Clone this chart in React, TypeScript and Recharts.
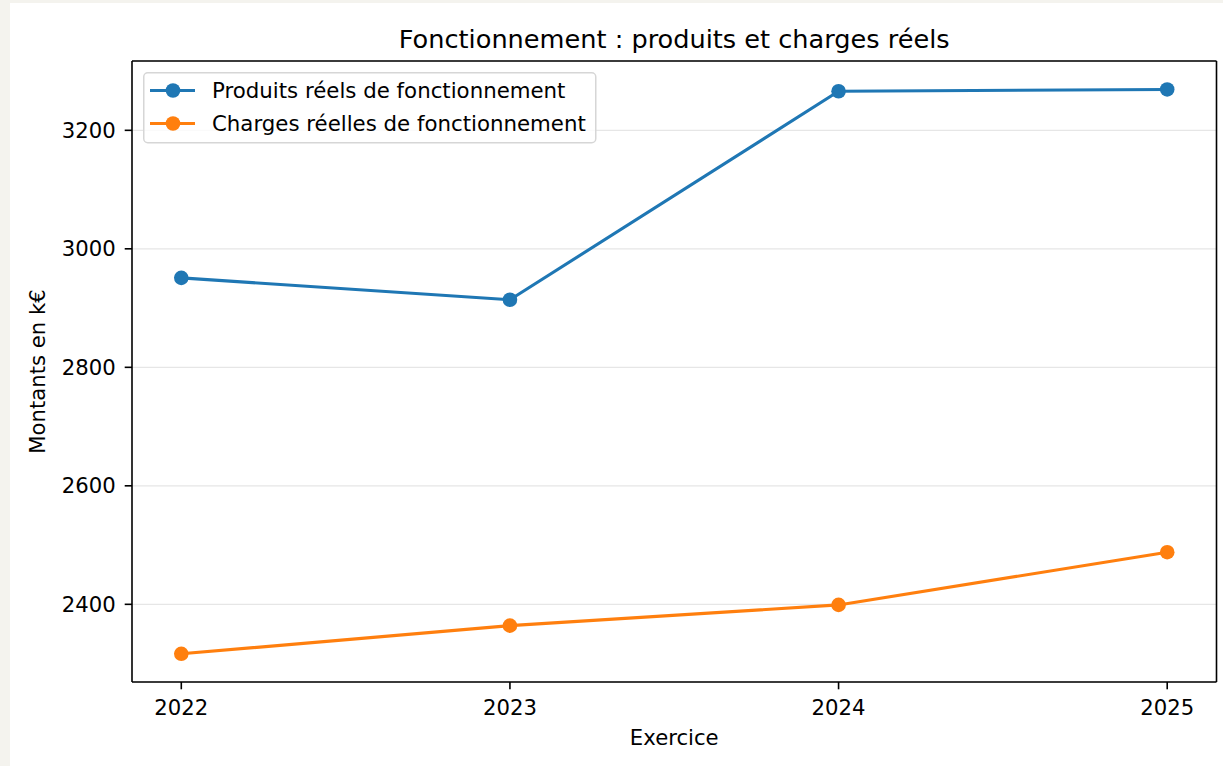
import React from 'react';
import { LineChart, Line, XAxis, YAxis, CartesianGrid, Legend, ReferenceLine } from 'recharts';

const years = [2022, 2023, 2024, 2025];
const produits = [2951, 2914, 3266, 3269];
const charges = [2316.5, 2364, 2399, 2488];
const yTicks = [2400, 2600, 2800, 3000, 3200];
const xTicks = [2022, 2023, 2024, 2025];
const xDomain = [2021.85, 2025.15];
const yDomain = [2268.9, 3317];

const title = 'Fonctionnement : produits et charges réels';
const xLabel = 'Exercice';
const yLabel = 'Montants en k€';
const seriesNames = ['Produits réels de fonctionnement', 'Charges réelles de fonctionnement'];
const seriesColors = ['#1f77b4', '#ff7f0e'];

const data = years.map((y, i) => ({ year: y, produits: produits[i], charges: charges[i] }));

const FONT = 'DejaVu Sans';
const FS = 21.2;

const LegendBox = () => (
  <svg width={454} height={72} style={{ display: 'block' }}>
    <rect x={0.75} y={0.75} width={452} height={70} rx={4} ry={4} fill="#ffffff" fillOpacity={0.8} stroke="#d6d6d6" strokeWidth={1.5} />
    {seriesNames.map((name, i) => {
      const cy = 18.5 + i * 33;
      return (
        <g key={name}>
          <line x1={7} x2={52} y1={cy} y2={cy} stroke={seriesColors[i]} strokeWidth={3.1} />
          <circle cx={30} cy={cy} r={7.3} fill={seriesColors[i]} />
          <text x={69} y={cy + 7.5} fontFamily={FONT} fontSize={21.3} fill="#000">{name}</text>
        </g>
      );
    })}
  </svg>
);

export default function App() {
  return (
    <div style={{ position: 'absolute', left: 0, top: 0, width: 1223, height: 766, background: '#f4f3ee', overflow: 'hidden' }}>
      <div style={{ position: 'absolute', left: 10, top: 3, width: 1213, height: 763, background: '#ffffff' }}>
        <LineChart width={1213} height={763} data={data} margin={{ top: 58, right: 6.5, bottom: 0, left: 0 }}>
          <CartesianGrid vertical={false} stroke="#e6e6e6" strokeWidth={1.3} />
          <XAxis
            dataKey="year"
            type="number"
            domain={xDomain}
            allowDataOverflow
            ticks={xTicks}
            height={84}
            tickSize={7.3}
            tickMargin={11}
            axisLine={{ stroke: '#000', strokeWidth: 1.6 }}
            tickLine={{ stroke: '#000', strokeWidth: 1.6 }}
            tick={{ fill: '#000', fontFamily: FONT, fontSize: FS }}
            label={{
              content: (p: any) => {
                const vb = p.viewBox || {};
                return (
                  <text x={vb.x + vb.width / 2} y={742} textAnchor="middle" fontFamily={FONT} fontSize={FS} fill="#000">{xLabel}</text>
                );
              },
            }}
          />
          <YAxis
            type="number"
            domain={yDomain}
            allowDataOverflow
            ticks={yTicks}
            width={122}
            tickSize={7.3}
            tickMargin={9}
            axisLine={{ stroke: '#000', strokeWidth: 1.6 }}
            tickLine={{ stroke: '#000', strokeWidth: 1.6 }}
            tick={{ fill: '#000', fontFamily: FONT, fontSize: FS }}
            label={{
              content: (p: any) => {
                const vb = p.viewBox || {};
                const cy = vb.y + vb.height / 2;
                return (
                  <text x={35} y={cy} transform={`rotate(-90 35 ${cy})`} textAnchor="middle" fontFamily={FONT} fontSize={FS} fill="#000">{yLabel}</text>
                );
              },
            }}
          />
          <ReferenceLine
            y={yDomain[1]}
            stroke="#000"
            strokeWidth={1.6}
            label={{
              content: (p: any) => {
                const vb = p.viewBox || {};
                return (
                  <text x={vb.x + vb.width / 2} y={45} textAnchor="middle" fontFamily={FONT} fontSize={25.6} fill="#000">{title}</text>
                );
              },
            }}
          />
          <ReferenceLine x={xDomain[1]} stroke="#000" strokeWidth={1.6} />
          <Legend
            layout="horizontal"
            verticalAlign="middle"
            align="center"
            content={() => <LegendBox />}
            wrapperStyle={{ left: 132.5, top: 69, width: 454, height: 72, margin: 0, padding: 0 }}
          />
          <Line
            type="linear"
            dataKey="produits"
            name={seriesNames[0]}
            stroke={seriesColors[0]}
            strokeWidth={3.1}
            dot={{ r: 7.3, fill: seriesColors[0], stroke: 'none', strokeWidth: 0 }}
            activeDot={false}
            isAnimationActive={false}
          />
          <Line
            type="linear"
            dataKey="charges"
            name={seriesNames[1]}
            stroke={seriesColors[1]}
            strokeWidth={3.1}
            dot={{ r: 7.3, fill: seriesColors[1], stroke: 'none', strokeWidth: 0 }}
            activeDot={false}
            isAnimationActive={false}
          />
        </LineChart>
      </div>
    </div>
  );
}
